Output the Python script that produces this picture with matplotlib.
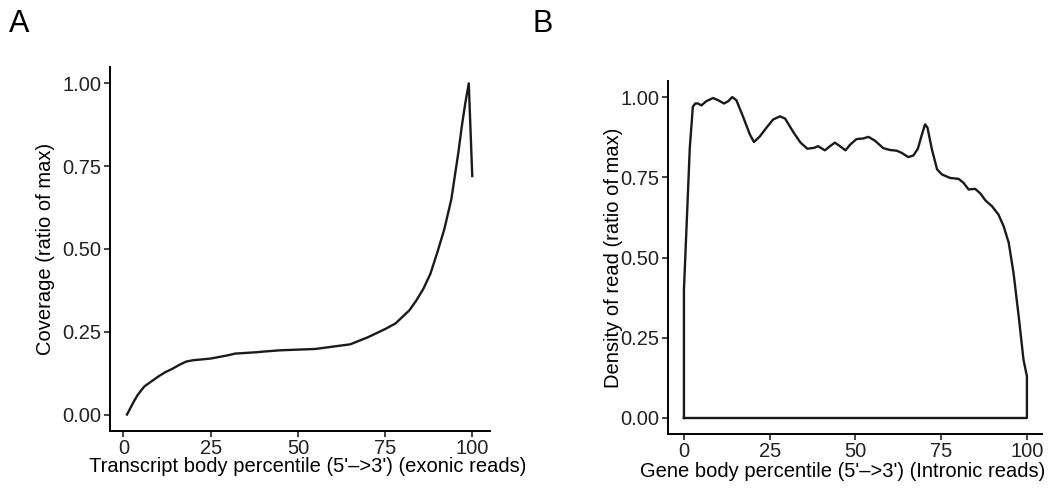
import matplotlib
matplotlib.use("Agg")
import matplotlib.pyplot as plt

# panel A: transcript body coverage (exonic reads)
pct_a = [1, 2, 3, 4, 5, 6, 8, 10, 12, 14, 16, 18, 20, 22, 25, 28, 30, 32, 35, 38, 40,
         45, 50, 55, 60, 65, 70, 75, 78, 80, 82, 84, 86, 88, 90, 92, 94, 96, 97, 98, 99, 100]
cov_a = [0.0, 0.02, 0.04, 0.058, 0.072, 0.085, 0.10, 0.115, 0.128, 0.138, 0.150, 0.160,
         0.164, 0.166, 0.169, 0.175, 0.179, 0.184, 0.186, 0.188, 0.19, 0.194, 0.196, 0.198,
         0.205, 0.212, 0.233, 0.258, 0.275, 0.295, 0.315, 0.345, 0.38, 0.425, 0.49, 0.56,
         0.65, 0.79, 0.87, 0.94, 1.0, 0.72]

# panel B: gene body density (intronic reads)
pct_b = [0, 0.7, 1.7, 2.6, 3.3, 4.1, 5.1, 6.5, 8.5, 10, 11.7, 12.9, 14.1, 15.3, 17.2, 19.2,
         20.4, 22.1, 24.1, 26, 28, 29.5, 32, 34, 36, 38, 39.1, 41.1, 42.6, 44, 45.5, 47.1,
         48.4, 50.3, 52.3, 53.8, 55.7, 58.1, 60.1, 62, 63.5, 65.4, 66.9, 68.2, 69.3, 70.3,
         71, 72.3, 73.8, 75.2, 77.6, 80.1, 81.5, 83, 84.9, 86.4, 87.9, 89.8, 91.7, 93.2,
         94.7, 96.1, 97.6, 99, 100]
dens_b = [0.40, 0.58, 0.84, 0.97, 0.98, 0.98, 0.974, 0.987, 0.997, 0.99, 0.98, 0.987, 1.0,
          0.99, 0.94, 0.884, 0.86, 0.877, 0.905, 0.93, 0.94, 0.933, 0.889, 0.858, 0.839,
          0.842, 0.847, 0.834, 0.847, 0.858, 0.847, 0.834, 0.851, 0.869, 0.871, 0.876,
          0.864, 0.841, 0.835, 0.833, 0.826, 0.813, 0.818, 0.839, 0.88, 0.915, 0.905,
          0.837, 0.775, 0.759, 0.748, 0.745, 0.733, 0.712, 0.714, 0.70, 0.678, 0.66, 0.634,
          0.598, 0.546, 0.452, 0.317, 0.182, 0.13]

ticks_x = [0, 25, 50, 75, 100]
ticks_y = [0.0, 0.25, 0.5, 0.75, 1.0]

plt.rcParams['font.family'] = ['Liberation Sans', 'DejaVu Sans']
fig = plt.figure(figsize=(10.55, 4.91), dpi=100)
axA = fig.add_axes([0.104, 0.122, 0.360, 0.742])
axB = fig.add_axes([0.633, 0.116, 0.355, 0.719])

def style(ax):
    for s in ['top', 'right']:
        ax.spines[s].set_visible(False)
    for s in ['left', 'bottom']:
        ax.spines[s].set_linewidth(1.4)
    ax.set_xticks(ticks_x)
    ax.set_yticks(ticks_y)
    ax.set_yticklabels(['%.2f' % v for v in ticks_y])
    ax.tick_params(direction='out', length=4, width=1.2, labelsize=14.5, colors='#222222', pad=2)
    ax.set_ylim(-0.05, 1.05)

axA.plot(pct_a, cov_a, color='#1a1a1a', lw=1.7)
style(axA)
axA.set_xlim(-3.95, 104.95)
axA.set_xlabel("Transcript body percentile (5'\u2013>3') (exonic reads)", fontsize=14.5)
axA.xaxis.set_label_coords(0.52, -0.07)
axA.set_ylabel("Coverage (ratio of max)", fontsize=14.5, labelpad=5)

xs = [0] + pct_b + [100, 0]
ys = [0] + dens_b + [0, 0]
axB.plot(xs, ys, color='#1a1a1a', lw=1.7)
style(axB)
axB.set_xlim(-4.7, 104.5)
axB.set_xlabel("Gene body percentile (5'\u2013>3') (Intronic reads)", fontsize=14.5)
axB.xaxis.set_label_coords(0.466, -0.08)
axB.set_ylabel("Density of read (ratio of max)", fontsize=14.5, labelpad=-2)

fig.text(0.008, 0.935, "A", fontsize=22)
fig.text(0.505, 0.935, "B", fontsize=22)

fig.savefig("out.png", dpi=100)
